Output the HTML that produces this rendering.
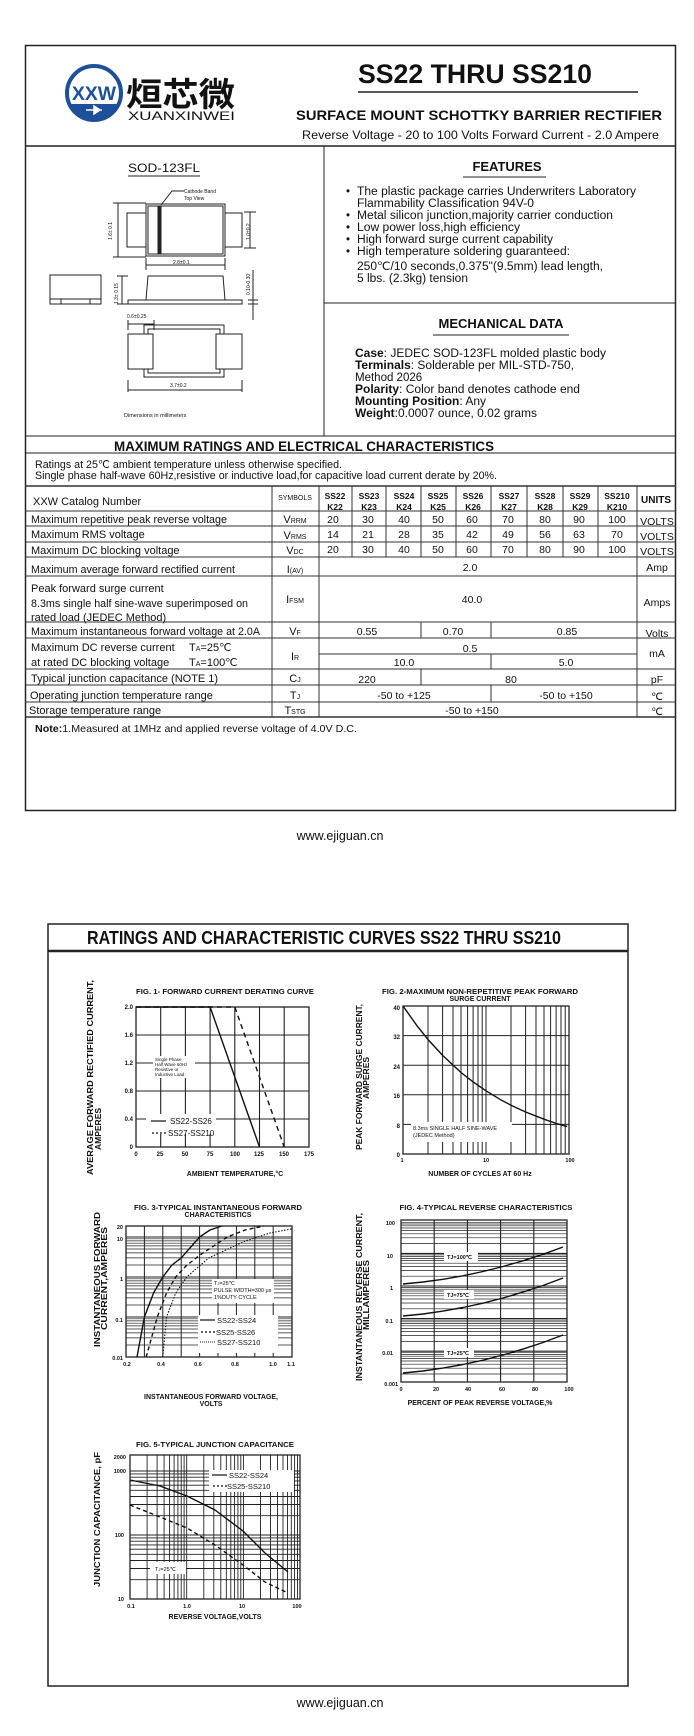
<!DOCTYPE html>
<html><head><meta charset="utf-8">
<style>
html,body{margin:0;padding:0;background:#fff;}
svg{display:block;}
text{font-family:"Liberation Sans",Arial,sans-serif;fill:#111;}
.b{font-weight:bold;}
.cjk{font-family:"Liberation Sans","Noto Sans CJK SC",sans-serif;}
</style></head><body>
<svg width="694" height="1736" viewBox="0 0 694 1736" xmlns="http://www.w3.org/2000/svg">
<rect width="694" height="1736" fill="#fff"/>
<g stroke="#222" fill="none">
<rect x="25.5" y="45.5" width="650" height="765" stroke-width="1.5"/>
<line x1="25" y1="146" x2="676" y2="146" stroke-width="1.5"/>
<line x1="324" y1="146" x2="324" y2="436" stroke-width="1"/>
<line x1="324" y1="303" x2="676" y2="303" stroke-width="1"/>
<line x1="25" y1="436" x2="676" y2="436" stroke-width="1"/>
<line x1="25" y1="453" x2="676" y2="453" stroke-width="1"/>
<line x1="358" y1="92" x2="638" y2="92" stroke-width="1.5"/>
<line x1="128" y1="176" x2="200" y2="176" stroke-width="1"/>
<line x1="463" y1="177" x2="546" y2="177" stroke-width="1"/>
<line x1="433" y1="335" x2="569" y2="335" stroke-width="1"/>
</g>
<circle cx="94" cy="93" r="27" fill="none" stroke="#1d4f9a" stroke-width="4"/>
<path d="M69 104 A27 27 0 0 0 119 104 Z" fill="#1d4f9a"/>
<text x="94" y="100" text-anchor="middle" font-size="19" font-weight="bold" style="fill:#1d4f9a" textLength="44" lengthAdjust="spacingAndGlyphs">XXW</text>
<path d="M86 110 h16 M94 106 v8 l6 -4 z" stroke="#fff" fill="#fff" stroke-width="1.5"/>
<text x="126" y="106" class="cjk b" font-size="33" textLength="109" lengthAdjust="spacingAndGlyphs">烜芯微</text>
<text x="128" y="120" font-size="12" textLength="107" lengthAdjust="spacingAndGlyphs">XUANXINWEI</text>
<text x="358" y="83" class="b" font-size="27" textLength="234" lengthAdjust="spacingAndGlyphs">SS22 THRU SS210</text>
<text x="296" y="120" class="b" font-size="14" textLength="366" lengthAdjust="spacingAndGlyphs">SURFACE MOUNT SCHOTTKY BARRIER RECTIFIER</text>
<text x="302" y="139" font-size="12" textLength="357" lengthAdjust="spacingAndGlyphs">Reverse Voltage - 20 to 100 Volts    Forward Current -  2.0 Ampere</text>
<text x="128" y="172" font-size="12" textLength="72" lengthAdjust="spacingAndGlyphs">SOD-123FL</text>
<g stroke="#222" fill="none" stroke-width="1">
<rect x="146" y="204" width="79" height="52"/>
<rect x="148" y="206" width="75" height="48"/>
<rect x="158" y="206" width="3" height="48" fill="#222"/>
<rect x="127" y="213" width="19" height="34"/>
<rect x="225" y="213" width="17" height="34"/>
<path d="M161 205 L172 191 H184"/>
<path d="M118 203 V257 M113 203 H146 M113 257 H146 M250 212 V248 M244 212 H256 M244 248 H256"/>
<path d="M146 258 V270 M225 258 V270 M146 265 H225"/>
<path d="M50 275 H101 V304 H50 Z M50 299 H101 M61 299 V304 M90 299 V304"/>
<path d="M146 300 L148 276 H223 L225 300"/>
<rect x="128" y="300" width="114" height="4"/>
<path d="M122 276 V304 M117 276 H128 M117 304 H128 M253 270 V320 M248 300 H258 M248 304 H258"/>
<rect x="144" y="325" width="80" height="52"/>
<rect x="148" y="329" width="72" height="44"/>
<rect x="128" y="334" width="25" height="35" fill="#fff"/>
<rect x="216" y="334" width="26" height="35" fill="#fff"/>
<path d="M128 320 V330 M154 320 V330 M128 324 H154"/>
<path d="M128 380 V392 M242 380 V392 M128 390 H242"/>
</g>
<text x="184" y="193" font-size="5">Cathode Band</text>
<text x="184" y="200" font-size="5">Top View</text>
<text x="112" y="240" font-size="5" transform="rotate(-90 112 240)">1.6± 0.1</text>
<text x="250" y="240" font-size="5" transform="rotate(-90 250 240)">1.0±0.2</text>
<text x="173" y="264" font-size="5">2.8±0.1</text>
<text x="118" y="304" font-size="5" transform="rotate(-90 118 304)">1.3± 0.15</text>
<text x="250" y="295" font-size="5" transform="rotate(-90 250 295)">0.10-0.30</text>
<text x="127" y="318" font-size="5">0.6±0.25</text>
<text x="170" y="387" font-size="5">3.7±0.2</text>
<text x="124" y="417" font-size="5.5">Dimensions in millimeters</text>
<text x="507" y="171" class="b" font-size="13" text-anchor="middle">FEATURES</text>
<g font-size="11.5">
<text x="346" y="195">•</text><text x="357" y="195" textLength="279" lengthAdjust="spacingAndGlyphs">The plastic package carries Underwriters Laboratory</text>
<text x="357" y="207" textLength="177" lengthAdjust="spacingAndGlyphs">Flammability Classification 94V-0</text>
<text x="346" y="219">•</text><text x="357" y="219" textLength="256" lengthAdjust="spacingAndGlyphs">Metal silicon junction,majority carrier conduction</text>
<text x="346" y="231">•</text><text x="357" y="231" textLength="163" lengthAdjust="spacingAndGlyphs">Low power loss,high efficiency</text>
<text x="346" y="243">•</text><text x="357" y="243" textLength="196" lengthAdjust="spacingAndGlyphs">High forward surge current capability</text>
<text x="346" y="255">•</text><text x="357" y="255" textLength="213" lengthAdjust="spacingAndGlyphs">High temperature soldering guaranteed:</text>
<text x="357" y="270" textLength="246" lengthAdjust="spacingAndGlyphs">250℃/10 seconds,0.375"(9.5mm) lead length,</text>
<text x="357" y="282" textLength="111" lengthAdjust="spacingAndGlyphs">5 lbs. (2.3kg) tension</text>
</g>
<text x="501" y="328" class="b" font-size="13" text-anchor="middle">MECHANICAL DATA</text>
<g font-size="11.5">
<text x="355" y="357" textLength="251" lengthAdjust="spacingAndGlyphs"><tspan class="b">Case</tspan>: JEDEC SOD-123FL molded plastic body</text>
<text x="355" y="369" textLength="219" lengthAdjust="spacingAndGlyphs"><tspan class="b">Terminals</tspan>: Solderable per MIL-STD-750,</text>
<text x="355" y="381">Method 2026</text>
<text x="355" y="393" textLength="225" lengthAdjust="spacingAndGlyphs"><tspan class="b">Polarity</tspan>: Color band denotes cathode end</text>
<text x="355" y="405" textLength="131" lengthAdjust="spacingAndGlyphs"><tspan class="b">Mounting Position</tspan>: Any</text>
<text x="355" y="417" textLength="182" lengthAdjust="spacingAndGlyphs"><tspan class="b">Weight</tspan>:0.0007 ounce, 0.02 grams</text>
</g>
<text x="114" y="451" class="b" font-size="13.5" textLength="380" lengthAdjust="spacingAndGlyphs">MAXIMUM RATINGS AND ELECTRICAL CHARACTERISTICS</text>
<text x="35" y="468" font-size="11" textLength="307" lengthAdjust="spacingAndGlyphs">Ratings at 25℃ ambient temperature unless otherwise specified.</text>
<text x="35" y="479" font-size="11" textLength="462" lengthAdjust="spacingAndGlyphs">Single phase half-wave 60Hz,resistive or inductive load,for capacitive load current derate by 20%.</text>
<g stroke="#333" stroke-width="1" fill="none">
<line x1="25" y1="486" x2="676" y2="486" stroke-width="1.5"/>
<path d="M25 511H676 M25 526H676 M25 542H676 M25 557H676 M25 576H676 M25 622H676 M25 638H676 M25 669H676 M25 685H676 M25 702H676"/>
<line x1="25" y1="717" x2="676" y2="717" stroke-width="1.5"/>
<path d="M272 486V717 M319 486V717 M637 486V717"/>
<path d="M352 486V557 M386 486V557 M421 486V557 M456 486V557 M491 486V557 M527 486V557 M563 486V557 M598 486V557"/>
<path d="M421 622V638 M491 622V638 M319 654H637 M491 654V669 M421 669V685 M491 685V702"/>
</g>
<g font-size="11">
<text x="33" y="505">XXW Catalog  Number</text>
<text x="31" y="523" textLength="196" lengthAdjust="spacingAndGlyphs">Maximum repetitive peak reverse voltage</text>
<text x="31" y="538">Maximum RMS voltage</text>
<text x="31" y="554">Maximum DC blocking voltage</text>
<text x="31" y="573" textLength="204" lengthAdjust="spacingAndGlyphs">Maximum average forward rectified current</text>
<text x="31" y="592">Peak forward surge current</text>
<text x="31" y="607" textLength="217" lengthAdjust="spacingAndGlyphs">8.3ms single half sine-wave superimposed on</text>
<text x="31" y="621">rated load (JEDEC Method)</text>
<text x="31" y="635" textLength="229" lengthAdjust="spacingAndGlyphs">Maximum instantaneous forward voltage at 2.0A</text>
<text x="31" y="651">Maximum DC reverse current</text><text x="189" y="651">T<tspan font-size="7">A</tspan>=25℃</text>
<text x="31" y="666">at rated DC blocking voltage</text><text x="189" y="666">T<tspan font-size="7">A</tspan>=100℃</text>
<text x="31" y="682">Typical junction capacitance (NOTE 1)</text>
<text x="30" y="699">Operating junction temperature range</text>
<text x="29" y="714">Storage temperature range</text>
</g>
<text x="295" y="500" font-size="7" text-anchor="middle">SYMBOLS</text>
<g font-size="11" text-anchor="middle">
<text x="295" y="523">V<tspan font-size="7">RRM</tspan></text>
<text x="295" y="539">V<tspan font-size="7">RMS</tspan></text>
<text x="295" y="554">V<tspan font-size="7">DC</tspan></text>
<text x="295" y="573">I<tspan font-size="7">(AV)</tspan></text>
<text x="295" y="603">I<tspan font-size="7">FSM</tspan></text>
<text x="295" y="635">V<tspan font-size="7">F</tspan></text>
<text x="295" y="660">I<tspan font-size="7">R</tspan></text>
<text x="295" y="682">C<tspan font-size="7">J</tspan></text>
<text x="295" y="699">T<tspan font-size="7">J</tspan></text>
<text x="295" y="714">T<tspan font-size="7">STG</tspan></text>
</g>
<g font-size="8.5" class="b" text-anchor="middle">
<text x="335" y="499">SS22</text><text x="335" y="510">K22</text>
<text x="369" y="499">SS23</text><text x="369" y="510">K23</text>
<text x="404" y="499">SS24</text><text x="404" y="510">K24</text>
<text x="438" y="499">SS25</text><text x="438" y="510">K25</text>
<text x="473" y="499">SS26</text><text x="473" y="510">K26</text>
<text x="509" y="499">SS27</text><text x="509" y="510">K27</text>
<text x="545" y="499">SS28</text><text x="545" y="510">K28</text>
<text x="580" y="499">SS29</text><text x="580" y="510">K29</text>
<text x="617" y="499">SS210</text><text x="617" y="510">K210</text>
<text x="656" y="503" font-size="10">UNITS</text>
</g>
<g font-size="10.5" text-anchor="middle">
<text x="333" y="523">20</text><text x="368" y="523">30</text><text x="404" y="523">40</text><text x="438" y="523">50</text><text x="472" y="523">60</text><text x="508" y="523">70</text><text x="545" y="523">80</text><text x="579" y="523">90</text><text x="617" y="523">100</text>
<text x="333" y="538">14</text><text x="368" y="538">21</text><text x="404" y="538">28</text><text x="438" y="538">35</text><text x="472" y="538">42</text><text x="508" y="538">49</text><text x="545" y="538">56</text><text x="579" y="538">63</text><text x="617" y="538">70</text>
<text x="333" y="553">20</text><text x="368" y="553">30</text><text x="404" y="553">40</text><text x="438" y="553">50</text><text x="472" y="553">60</text><text x="508" y="553">70</text><text x="545" y="553">80</text><text x="579" y="553">90</text><text x="617" y="553">100</text>
<text x="470" y="571">2.0</text>
<text x="472" y="603">40.0</text>
<text x="367" y="635">0.55</text><text x="453" y="635">0.70</text><text x="567" y="635">0.85</text>
<text x="470" y="652">0.5</text>
<text x="404" y="666">10.0</text><text x="566" y="666">5.0</text>
<text x="367" y="683">220</text><text x="511" y="683">80</text>
<text x="404" y="699">-50 to +125</text><text x="566" y="699">-50 to +150</text>
<text x="472" y="714">-50 to +150</text>
<text x="657" y="525">VOLTS</text><text x="657" y="540">VOLTS</text><text x="657" y="555">VOLTS</text>
<text x="657" y="571">Amp</text><text x="657" y="606">Amps</text><text x="657" y="637">Volts</text>
<text x="657" y="657">mA</text><text x="657" y="683">pF</text><text x="657" y="700">℃</text><text x="657" y="715">℃</text>
</g>
<text x="35" y="732" font-size="10.5" textLength="322" lengthAdjust="spacingAndGlyphs"><tspan class="b">Note:</tspan>1.Measured at 1MHz and applied reverse voltage of 4.0V D.C.</text>
<text x="340" y="840" font-size="12.5" text-anchor="middle">www.ejiguan.cn</text>

<!-- PAGE 2 -->
<g stroke="#222" fill="none">
<rect x="48" y="924" width="580" height="762" stroke-width="1.5"/>
<line x1="48" y1="951" x2="628" y2="951" stroke-width="2.5"/>
</g>
<text x="87" y="944" class="b" font-size="18" textLength="474" lengthAdjust="spacingAndGlyphs">RATINGS AND CHARACTERISTIC CURVES SS22 THRU SS210</text>
<text x="340" y="1707" font-size="12.5" text-anchor="middle">www.ejiguan.cn</text>

<!-- GRIDS -->
<g stroke="#222" fill="none">
<!-- fig1 -->
<path stroke-width="1.1" d="M160.7 1007V1147 M185.4 1007V1147 M210.1 1007V1147 M234.8 1007V1147 M259.5 1007V1147 M284.2 1007V1147 M136 1035H309 M136 1063H309 M136 1091H309 M136 1119H309"/>
<rect x="136" y="1007" width="173" height="140" stroke-width="1.3"/>
<!-- fig2 -->
<path stroke-width="1" d="M428 1006V1154 M442.6 1006V1154 M453 1006V1154 M461 1006V1154 M467.6 1006V1154 M473.1 1006V1154 M478 1006V1154 M482.2 1006V1154 M486 1006V1154 M511 1006V1154 M525.6 1006V1154 M536 1006V1154 M544 1006V1154 M550.6 1006V1154 M556.1 1006V1154 M561 1006V1154 M565.2 1006V1154 M403 1035.6H569 M403 1065.2H569 M403 1094.8H569 M403 1124.4H569"/>
<rect x="403" y="1006" width="166" height="148" stroke-width="1.3"/>
<!-- fig3 -->
<path stroke-width="1" d="M144.4 1226V1357 M162.8 1226V1357 M181.2 1226V1357 M199.6 1226V1357 M218 1226V1357 M236.4 1226V1357 M254.8 1226V1357 M273.2 1226V1357 M126 1237H292 M126 1277H292 M126 1317H292"/>
<path stroke-width="0.7" d="M126 1345H292 M126 1337.9H292 M126 1332.9H292 M126 1329H292 M126 1325.9H292 M126 1323.2H292 M126 1320.9H292 M126 1318.8H292 M126 1305H292 M126 1297.9H292 M126 1292.9H292 M126 1289H292 M126 1285.9H292 M126 1283.2H292 M126 1280.9H292 M126 1278.8H292 M126 1265H292 M126 1257.9H292 M126 1252.9H292 M126 1249H292 M126 1245.9H292 M126 1243.2H292 M126 1240.9H292 M126 1238.8H292"/>
<rect x="126" y="1226" width="166" height="131" stroke-width="1.3"/>
<!-- fig4 -->
<path stroke-width="1.1" d="M434.2 1220V1382 M467.4 1220V1382 M500.6 1220V1382 M533.8 1220V1382 M401 1253.4H567 M401 1286H567 M401 1318.6H567 M401 1351.2H567"/>
<path stroke-width="0.7" d="M401 1374H567 M401 1368.2H567 M401 1364.2H567 M401 1361H567 M401 1358.4H567 M401 1356.2H567 M401 1354.4H567 M401 1352.7H567 M401 1341.4H567 M401 1335.6H567 M401 1331.6H567 M401 1328.4H567 M401 1325.8H567 M401 1323.6H567 M401 1321.8H567 M401 1320.1H567 M401 1308.8H567 M401 1303H567 M401 1299H567 M401 1295.8H567 M401 1293.2H567 M401 1291H567 M401 1289.2H567 M401 1287.5H567 M401 1276.2H567 M401 1270.4H567 M401 1266.4H567 M401 1263.2H567 M401 1260.6H567 M401 1258.4H567 M401 1256.6H567 M401 1254.9H567 M401 1243.6H567 M401 1237.8H567 M401 1233.8H567 M401 1230.6H567 M401 1228H567 M401 1225.8H567 M401 1224H567 M401 1222.3H567"/>
<rect x="401" y="1220" width="166" height="162" stroke-width="1.3"/>
<!-- fig5 -->
<path stroke-width="0.9" d="M147.1 1455V1599 M157.1 1455V1599 M164.1 1455V1599 M169.6 1455V1599 M174.1 1455V1599 M177.9 1455V1599 M181.2 1455V1599 M184.1 1455V1599 M186.7 1455V1599 M203.8 1455V1599 M213.8 1455V1599 M220.8 1455V1599 M226.3 1455V1599 M230.8 1455V1599 M234.6 1455V1599 M237.9 1455V1599 M240.8 1455V1599 M243.4 1455V1599 M260.5 1455V1599 M270.5 1455V1599 M277.5 1455V1599 M283 1455V1599 M287.5 1455V1599 M291.3 1455V1599 M294.6 1455V1599 M297.5 1455V1599"/>
<path stroke-width="0.9" d="M130 1579.7H300 M130 1568.5H300 M130 1560.5H300 M130 1554.3H300 M130 1549.2H300 M130 1544.9H300 M130 1541.2H300 M130 1537.9H300 M130 1535H300 M130 1515.7H300 M130 1504.5H300 M130 1496.5H300 M130 1490.3H300 M130 1485.2H300 M130 1480.9H300 M130 1477.2H300 M130 1473.9H300 M130 1471H300"/>
<rect x="130" y="1455" width="170" height="144" stroke-width="1.3"/>
</g>

<!-- CURVES -->
<g fill="none" stroke="#111" stroke-width="1.4" stroke-linejoin="round">
<polyline points="136,1007 210.1,1007 259.5,1147"/>
<polyline points="136,1007 234.8,1007 284.2,1147" stroke-dasharray="5,4"/>
<polyline points="403,1006 417.6,1026.6 428,1039.5 442.6,1055.4 461,1072.5 473.1,1081.9 486,1090.8 500.6,1099.7 511,1105.2 525.6,1112 544,1119.2 556.1,1123.4 567.2,1126.6"/>
<polyline points="137,1357 144.4,1317 153.6,1292.9 162.8,1277 172,1265 181.2,1257.9 199.6,1237 210,1230 221.7,1226"/>
<polyline points="146.2,1357 157.3,1317 166.5,1293 175.7,1277 186,1266 199.6,1255.2 227.2,1237 245,1230 264,1226" stroke-dasharray="4,3"/>
<polyline points="162.8,1357 166.5,1317 175.7,1293 186.7,1277 208.8,1257.9 245.6,1240.9 270,1233 291.6,1228.9" stroke-dasharray="1.5,1.5" stroke-width="1.1"/>
<polyline points="403,1284 423,1282 443,1279.3 463,1275.8 483,1271.5 503,1266.5 523,1260.8 543,1254.3 563,1247"/>
<polyline points="403,1316 423,1314 443,1311.1 463,1307.5 483,1303.2 503,1298 523,1292.1 543,1285.5 563,1278"/>
<polyline points="403,1373 423,1371 443,1368.1 463,1364.5 483,1360.2 503,1355 523,1349.1 543,1342.5 563,1335"/>
<polyline points="130,1480 160,1486 187,1496 215,1510 243,1531 265,1553 288,1572"/>
<polyline points="130,1505 160,1517 187,1528 215,1545 243,1565 265,1582 288,1593" stroke-dasharray="4,3"/>
</g>

<!-- Fig1 labels -->
<text x="225" y="994" class="b" font-size="7" text-anchor="middle" textLength="178" lengthAdjust="spacingAndGlyphs">FIG. 1- FORWARD CURRENT DERATING CURVE</text>
<g font-size="6" class="b" text-anchor="end">
<text x="133" y="1009">2.0</text><text x="133" y="1037">1.6</text><text x="133" y="1065">1.2</text><text x="133" y="1093">0.8</text><text x="133" y="1121">0.4</text><text x="133" y="1149">0</text>
</g>
<g font-size="6" class="b" text-anchor="middle">
<text x="136" y="1156">0</text><text x="160" y="1156">25</text><text x="185" y="1156">50</text><text x="210" y="1156">75</text><text x="235" y="1156">100</text><text x="259" y="1156">125</text><text x="284" y="1156">150</text><text x="309" y="1156">175</text>
</g>
<text x="235" y="1176" class="b" font-size="7" text-anchor="middle">AMBIENT TEMPERATURE,°C</text>
<text x="93" y="1175" class="b" font-size="8.5" transform="rotate(-90 93 1175)" textLength="195" lengthAdjust="spacingAndGlyphs">AVERAGE FORWARD RECTIFIED CURRENT,</text>
<text x="101" y="1150" class="b" font-size="8.5" transform="rotate(-90 101 1150)">AMPERES</text>
<rect x="153" y="1056" width="42" height="22" fill="#fff"/>
<g font-size="4.5"><text x="155" y="1061">Single Phase</text><text x="155" y="1066">Half Wave 60Hz</text><text x="155" y="1071">Resistive or</text><text x="155" y="1076">Inductive Load</text></g>
<rect x="146" y="1114" width="70" height="20" fill="#fff"/>
<g font-size="8"><text x="170" y="1124">SS22-SS26</text><text x="168" y="1136">SS27-SS210</text></g>
<line x1="151" y1="1121" x2="166" y2="1121" stroke="#111" stroke-width="1.2"/>
<line x1="152" y1="1133" x2="167" y2="1133" stroke="#111" stroke-width="1.2" stroke-dasharray="2,2"/>

<!-- Fig2 labels -->
<text x="480" y="994" class="b" font-size="7" text-anchor="middle" textLength="196" lengthAdjust="spacingAndGlyphs">FIG. 2-MAXIMUM NON-REPETITIVE PEAK FORWARD</text>
<text x="480" y="1001" class="b" font-size="7" text-anchor="middle">SURGE CURRENT</text>
<g font-size="6" class="b" text-anchor="end">
<text x="400" y="1010">40</text><text x="400" y="1039">32</text><text x="400" y="1069">24</text><text x="400" y="1098">16</text><text x="400" y="1128">8</text><text x="400" y="1157">0</text>
</g>
<g font-size="5.5" class="b" text-anchor="middle"><text x="402" y="1162">1</text><text x="486" y="1162">10</text><text x="570" y="1162">100</text></g>
<text x="480" y="1176" class="b" font-size="7" text-anchor="middle">NUMBER OF CYCLES AT 60 Hz</text>
<text x="362" y="1150" class="b" font-size="8.5" transform="rotate(-90 362 1150)" textLength="146" lengthAdjust="spacingAndGlyphs">PEAK   FORWARD SURGE CURRENT,</text>
<text x="369" y="1099" class="b" font-size="8.5" transform="rotate(-90 369 1099)">AMPERES</text>
<rect x="411" y="1122" width="101" height="20" fill="#fff"/>
<g font-size="5.5"><text x="413" y="1130">8.3ms SINGLE HALF SINE-WAVE</text><text x="413" y="1137">(JEDEC Method)</text></g>

<!-- Fig3 labels -->
<text x="218" y="1210" class="b" font-size="7" text-anchor="middle" textLength="168" lengthAdjust="spacingAndGlyphs">FIG. 3-TYPICAL INSTANTANEOUS FORWARD</text>
<text x="218" y="1217" class="b" font-size="7" text-anchor="middle">CHARACTERISTICS</text>
<g font-size="5.5" class="b" text-anchor="end">
<text x="123" y="1229">20</text><text x="123" y="1241">10</text><text x="123" y="1281">1</text><text x="123" y="1322">0.1</text><text x="123" y="1360">0.01</text>
</g>
<g font-size="5.5" class="b" text-anchor="middle">
<text x="127" y="1366">0.2</text><text x="161" y="1366">0.4</text><text x="198" y="1366">0.6</text><text x="235" y="1366">0.8</text><text x="273" y="1366">1.0</text><text x="291" y="1366">1.1</text>
</g>
<text x="211" y="1399" class="b" font-size="7" text-anchor="middle">INSTANTANEOUS FORWARD VOLTAGE,</text>
<text x="211" y="1406" class="b" font-size="7" text-anchor="middle">VOLTS</text>
<text x="100" y="1347" class="b" font-size="8.5" transform="rotate(-90 100 1347)" textLength="135" lengthAdjust="spacingAndGlyphs">INSTANTANEOUS FORWARD</text>
<text x="107" y="1330" class="b" font-size="8.5" transform="rotate(-90 107 1330)" textLength="103" lengthAdjust="spacingAndGlyphs">CURRENT,AMPERES</text>
<rect x="212" y="1279" width="62" height="24" fill="#fff"/>
<g font-size="5.5"><text x="214" y="1285">T<tspan font-size="4">J</tspan>=25℃</text><text x="214" y="1292">PULSE WIDTH=300 μs</text><text x="214" y="1299">1%DUTY CYCLE</text></g>
<rect x="198" y="1315" width="80" height="38" fill="#fff"/>
<g font-size="7.5"><text x="217" y="1323">SS22-SS24</text><text x="216" y="1335">SS25-SS26</text><text x="217" y="1345">SS27-SS210</text></g>
<line x1="200" y1="1320" x2="215" y2="1320" stroke="#111" stroke-width="1.2"/>
<line x1="201" y1="1332" x2="216" y2="1332" stroke="#111" stroke-width="1.2" stroke-dasharray="2,2"/>
<line x1="200" y1="1342" x2="215" y2="1342" stroke="#111" stroke-width="1" stroke-dasharray="1,1"/>

<!-- Fig4 labels -->
<text x="486" y="1210" class="b" font-size="7" text-anchor="middle" textLength="173" lengthAdjust="spacingAndGlyphs">FIG. 4-TYPICAL REVERSE CHARACTERISTICS</text>
<g font-size="5.5" class="b" text-anchor="end">
<text x="395" y="1225">100</text><text x="393" y="1258">10</text><text x="393" y="1290">1</text><text x="393" y="1323">0.1</text><text x="393" y="1355">0.01</text><text x="398" y="1386">0.001</text>
</g>
<g font-size="5.5" class="b" text-anchor="middle">
<text x="401" y="1391">0</text><text x="436" y="1391">20</text><text x="468" y="1391">40</text><text x="502" y="1391">60</text><text x="535" y="1391">80</text><text x="569" y="1391">100</text>
</g>
<text x="480" y="1405" class="b" font-size="7" text-anchor="middle">PERCENT OF PEAK REVERSE VOLTAGE,%</text>
<text x="362" y="1381" class="b" font-size="8.5" transform="rotate(-90 362 1381)" textLength="168" lengthAdjust="spacingAndGlyphs">INSTANTANEOUS REVERSE CURRENT,</text>
<text x="369" y="1330" class="b" font-size="8.5" transform="rotate(-90 369 1330)" textLength="70" lengthAdjust="spacingAndGlyphs">MILLAMPERES</text>
<rect x="444" y="1252" width="34" height="9" fill="#fff"/><text x="447" y="1259" font-size="5.5" class="b">TJ=100℃</text>
<rect x="444" y="1290" width="30" height="9" fill="#fff"/><text x="447" y="1297" font-size="5.5" class="b">TJ=75℃</text>
<rect x="444" y="1348" width="30" height="9" fill="#fff"/><text x="447" y="1355" font-size="5.5" class="b">TJ=25℃</text>

<!-- Fig5 labels -->
<text x="215" y="1447" class="b" font-size="7" text-anchor="middle" textLength="158" lengthAdjust="spacingAndGlyphs">FIG. 5-TYPICAL JUNCTION CAPACITANCE</text>
<g font-size="5.5" class="b" text-anchor="end">
<text x="126" y="1459">2000</text><text x="126" y="1473">1000</text><text x="124" y="1537">100</text><text x="124" y="1601">10</text>
</g>
<g font-size="5.5" class="b" text-anchor="middle">
<text x="131" y="1608">0.1</text><text x="187" y="1608">1.0</text><text x="242" y="1608">10</text><text x="297" y="1608">100</text>
</g>
<text x="215" y="1619" class="b" font-size="7" text-anchor="middle">REVERSE VOLTAGE,VOLTS</text>
<text x="100" y="1587" class="b" font-size="8.5" transform="rotate(-90 100 1587)" textLength="135" lengthAdjust="spacingAndGlyphs">JUNCTION CAPACITANCE, pF</text>
<rect x="209" y="1470" width="85" height="22" fill="#fff"/>
<g font-size="7.5"><text x="229" y="1478">SS22-SS24</text><text x="227" y="1489">SS25-SS210</text></g>
<line x1="212" y1="1475" x2="227" y2="1475" stroke="#111" stroke-width="1.2"/>
<line x1="213" y1="1486" x2="227" y2="1486" stroke="#111" stroke-width="1.2" stroke-dasharray="2,2"/>
<rect x="150" y="1562" width="36" height="12" fill="#fff"/><text x="155" y="1571" font-size="5.5">T<tspan font-size="4">J</tspan>=25℃</text>
</svg>
</body></html>
